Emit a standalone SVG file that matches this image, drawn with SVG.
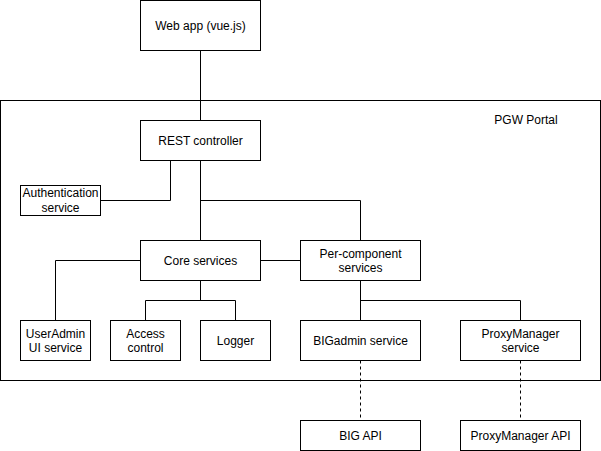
<svg xmlns="http://www.w3.org/2000/svg" width="601" height="451" viewBox="0 0 601 451">
<style>
.box{fill:#fff;stroke:#000;stroke-width:1}
.c{fill:none;stroke:#000;stroke-width:1}
.d{stroke-dasharray:3 3}
text{font-family:"Liberation Sans",Arial,Helvetica,sans-serif;font-size:12px;fill:#000;text-anchor:middle;dominant-baseline:central}
</style>
<rect width="601" height="451" fill="#fff"/>
<g id="portal">
<rect class="box" x="0.5" y="100.5" width="600" height="280"/>
<text x="526" y="120">PGW Portal</text>
</g>
<g id="connectors">
<path class="c" d="M200.5 50.5V120.5"/>
<path class="c" d="M170.5 160.5V200.5H100.5"/>
<path class="c" d="M200.5 160.5V240.5"/>
<path class="c" d="M200.5 200.5H360.5V240.5"/>
<path class="c" d="M260.5 260.5H300.5"/>
<path class="c" d="M140.5 260.5H55.5V320.5"/>
<path class="c" d="M200.5 280.5V300.5M145.5 320.5V300.5H235.5V320.5"/>
<path class="c" d="M360.5 280.5V320.5M360.5 300.5H520.5V320.5"/>
<path class="c d" d="M360.5 360.5V420.5"/>
<path class="c d" d="M520.5 360.5V420.5"/>
</g>
<g id="webapp"><rect class="box" x="140.5" y="0.5" width="120" height="50"/><text x="200.5" y="25.5">Web app (vue.js)</text></g>
<g id="rest"><rect class="box" x="140.5" y="120.5" width="120" height="40"/><text x="200.5" y="140.5">REST controller</text></g>
<g id="auth"><rect class="box" x="20.5" y="185.5" width="80" height="30"/><text x="60.5" y="193">Authentication</text><text x="60.5" y="208">service</text></g>
<g id="core"><rect class="box" x="140.5" y="240.5" width="120" height="40"/><text x="200.5" y="260.5">Core services</text></g>
<g id="percomp"><rect class="box" x="300.5" y="240.5" width="120" height="40"/><text x="360.5" y="253.5">Per-component</text><text x="360.5" y="267.5">services</text></g>
<g id="useradmin"><rect class="box" x="20.5" y="320.5" width="70" height="40"/><text x="55.5" y="333.5">UserAdmin</text><text x="55.5" y="347.5">UI service</text></g>
<g id="access"><rect class="box" x="110.5" y="320.5" width="70" height="40"/><text x="145.5" y="333.5">Access</text><text x="145.5" y="347.5">control</text></g>
<g id="logger"><rect class="box" x="200.5" y="320.5" width="70" height="40"/><text x="235.5" y="340.5">Logger</text></g>
<g id="bigadmin"><rect class="box" x="300.5" y="320.5" width="120" height="40"/><text x="360.5" y="340.5">BIGadmin service</text></g>
<g id="proxysvc"><rect class="box" x="460.5" y="320.5" width="120" height="40"/><text x="520.5" y="333.5">ProxyManager</text><text x="520.5" y="347.5">service</text></g>
<g id="bigapi"><rect class="box" x="300.5" y="420.5" width="120" height="30"/><text x="360.5" y="435.5">BIG API</text></g>
<g id="proxyapi"><rect class="box" x="460.5" y="420.5" width="120" height="30"/><text x="520.5" y="435.5">ProxyManager API</text></g>
</svg>
